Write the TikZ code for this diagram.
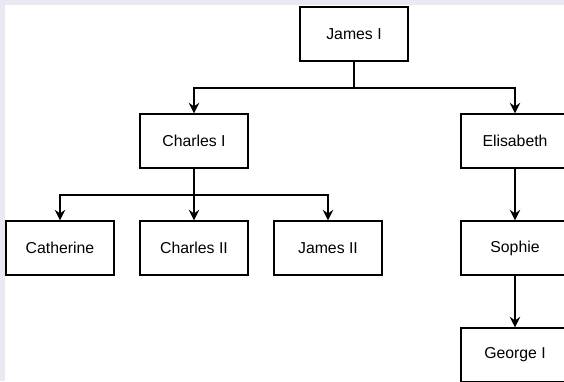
\documentclass[tikz,border=0pt]{standalone}
\usepackage{fontspec}
\setmainfont{Liberation Sans}
\usetikzlibrary{arrows.meta}
\definecolor{pagebg}{HTML}{E9E9F4}
\tikzset{
  person/.style={draw=black, line width=1.3pt, fill=white,
    minimum width=108pt, minimum height=54pt, inner sep=0pt,
    font=\fontsize{15.8}{18}\selectfont},
  link/.style={draw=black, line width=1.5pt},
  linkarrow/.style={link, -{Stealth[length=10.5pt, width=10.5pt, inset=3.5pt]}}
}
\begin{document}
\begin{tikzpicture}[x=1pt, y=-1pt]
  \useasboundingbox (0,0) rectangle (564,381);
  \clip (0,0) rectangle (564,381);
  % page frame
  \fill[pagebg] (0,0) rectangle (564,381);
  \fill[white] (5,5) rectangle (564,381);

  % family members
  \node[person] (jamesI)    at (354, 34) {James I};
  \node[person] (charlesI)  at (194,141) {Charles I};
  \node[person] (elisabeth) at (515,141) {Elisabeth};
  \node[person] (catherine) at (60, 248) {Catherine};
  \node[person] (charlesII) at (194,248) {Charles II};
  \node[person] (jamesII)   at (328,248) {James II};
  \node[person] (sophie)    at (515,248) {Sophie};
  \node[person] (georgeI)   at (515,355) {George I};

  % junction heights of the branching lines
  \coordinate (bus1) at (0, 88);
  \coordinate (bus2) at (0,195);

  % children of James I
  \draw[linkarrow] (jamesI.south) -- (jamesI.south |- bus1) -| (charlesI.north);
  \draw[linkarrow] (jamesI.south) -- (jamesI.south |- bus1) -| (elisabeth.north);

  % children of Charles I
  \draw[linkarrow] (charlesI.south) -- (charlesI.south |- bus2) -| (catherine.north);
  \draw[linkarrow] (charlesI.south) -- (charlesII.north);
  \draw[linkarrow] (charlesI.south) -- (charlesI.south |- bus2) -| (jamesII.north);

  % line of Elisabeth
  \draw[linkarrow] (elisabeth.south) -- (sophie.north);
  \draw[linkarrow] (sophie.south) -- (georgeI.north);
\end{tikzpicture}
\end{document}
